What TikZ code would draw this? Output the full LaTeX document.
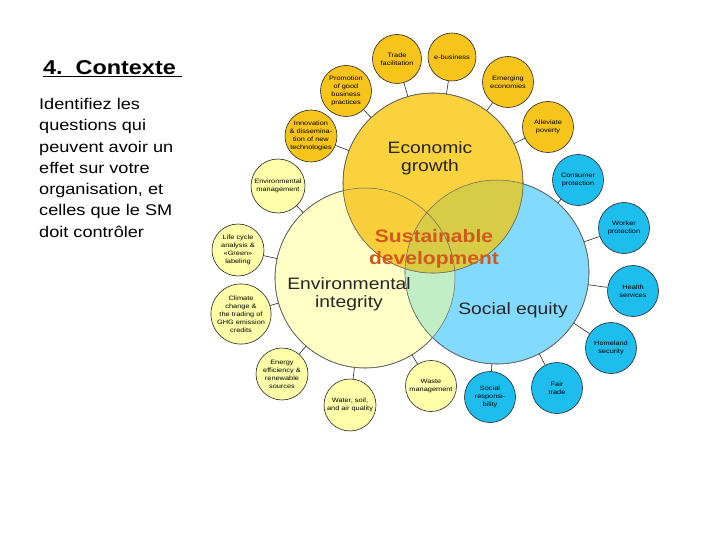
\documentclass[tikz,border=0pt]{standalone}
\usepackage{fontspec}
\setmainfont[FakeStretch=1.17]{Liberation Sans}
\definecolor{ecoB}{HTML}{F9D23E}
\definecolor{ecoS}{HTML}{F7C41C}
\definecolor{envB}{HTML}{FFFFC6}
\definecolor{envS}{HTML}{FFFFAA}
\definecolor{socB}{HTML}{82DBFF}
\definecolor{socS}{HTML}{1DBDEE}
\definecolor{envsoc}{HTML}{C2EEC6}
\definecolor{ecosoc}{HTML}{D8CB45}
\definecolor{ecoenv}{HTML}{F8CE3A}
\definecolor{sdred}{HTML}{CF5A1E}
\begin{document}
\begin{tikzpicture}[x=1pt,y=-1pt,
  bigc/.style={circle,inner sep=0pt,draw=black!70,line width=0.6pt},
  smallc/.style={circle,inner sep=0pt,draw=black!85,line width=0.6pt,minimum size=51pt,align=center,font=\fontsize{6.3}{8}\selectfont},
  ecos/.style={smallc,fill=ecoS},
  envs/.style={smallc,fill=envS},
  socs/.style={smallc,fill=socS},
  conn/.style={draw=black!85,line width=0.6pt},
  biglab/.style={align=center,font=\fontsize{16.5}{18.5}\selectfont,text=black!85},
  outl/.style={draw=black!60,line width=0.5pt}
]
\useasboundingbox (0,0) rectangle (720,540);
\coordinate (cE) at (433,183);
\coordinate (cV) at (365,278);
\coordinate (cS) at (497,272);
% big circles
\node[bigc,fill=envB,minimum size=180pt] (env) at (cV) {};
\node[bigc,fill=socB,minimum size=184pt] (soc) at (cS) {};
\begin{scope}
  \clip (cV) circle[radius=90pt];
  \fill[envsoc] (cS) circle[radius=92pt];
\end{scope}
\node[bigc,fill=ecoB,minimum size=180pt] (econ) at (cE) {};
\begin{scope}
  \clip (cE) circle[radius=90pt];
  \fill[ecoenv] (cV) circle[radius=90pt];
  \fill[ecosoc] (cS) circle[radius=92pt];
\end{scope}
\draw[outl] (cV) circle[radius=90pt];
\draw[outl] (cS) circle[radius=92pt];
\draw[outl] (cE) circle[radius=90pt];
% big labels
\node[biglab] (lE) at (430,158) {Economic\\growth};
\node[align=center,font=\bfseries\fontsize{18}{21.5}\selectfont,text=sdred] (lD) at (434,249) {Sustainable\\development};
\node[biglab] (lV) at (349,294) {Environmental\\integrity};
\node[biglab] (lS) at (513,310) {Social equity};
% small circles: economic
\node[ecos,minimum size=49pt] (trade) at (397,59) {Trade\\facilitation};
\node[ecos,minimum size=48pt] (ebiz) at (452,57) {e-business};
\node[ecos] (emerg) at (508,82) {Emerging\\economies};
\node[ecos] (allev) at (548,127) {Alleviate\\poverty};
\node[ecos,minimum size=52pt] (innov) at (311,136) {Innovation\\\& dissemina-\\tion of new\\technologies};
\node[ecos] (promo) at (346,91) {Promotion\\of good\\business\\practices};
% small circles: social
\node[socs] (cons) at (578,180) {Consumer\\protection};
\node[socs] (work) at (624,228) {Worker\\protection};
\node[socs] (health) at (633,291) {Health\\services};
\node[socs] (home) at (611,348) {Homeland\\security};
\node[socs] (fair) at (557,388) {Fair\\trade};
\node[socs] (sresp) at (490,397) {Social\\responsi-\\bility};
% small circles: environmental
\node[envs] (waste) at (431,386) {Waste\\management};
\node[envs,minimum size=52pt] (water) at (350,405) {Water, soil,\\and air quality};
\node[envs,minimum size=52pt] (energy) at (282,374) {Energy\\efficiency \&\\renewable\\sources};
\node[envs,minimum size=53pt] (clim) at (241,314) {Climate\\change \&\\the trading of\\GHG emission\\credits};
\node[envs,minimum size=52pt] (life) at (238,250) {Life cycle\\analysis \&\\«Green»\\labeling};
\node[envs,minimum size=54pt] (envman) at (278,186) {Environmental\\management};
% connectors
\foreach \s in {trade,ebiz,emerg,allev,innov,promo} \draw[conn] (\s) -- (econ);
\foreach \s in {cons,work,health,home,fair,sresp} \draw[conn] (\s) -- (soc);
\foreach \s in {waste,water,energy,clim,life,envman} \draw[conn] (\s) -- (env);
% left text
\node[anchor=base west,font=\bfseries\fontsize{20}{24}\selectfont,inner sep=0pt] (title) at (43,75) {\underline{4.\ \ Contexte\ }};
\node[anchor=north west,align=left,font=\fontsize{15.5}{21.3}\selectfont,inner sep=0pt] (body) at (39,98)
 {Identifiez les\\questions qui\\peuvent avoir un\\effet sur votre\\organisation, et\\celles que le SM\\doit contrôler};
\end{tikzpicture}
\end{document}
